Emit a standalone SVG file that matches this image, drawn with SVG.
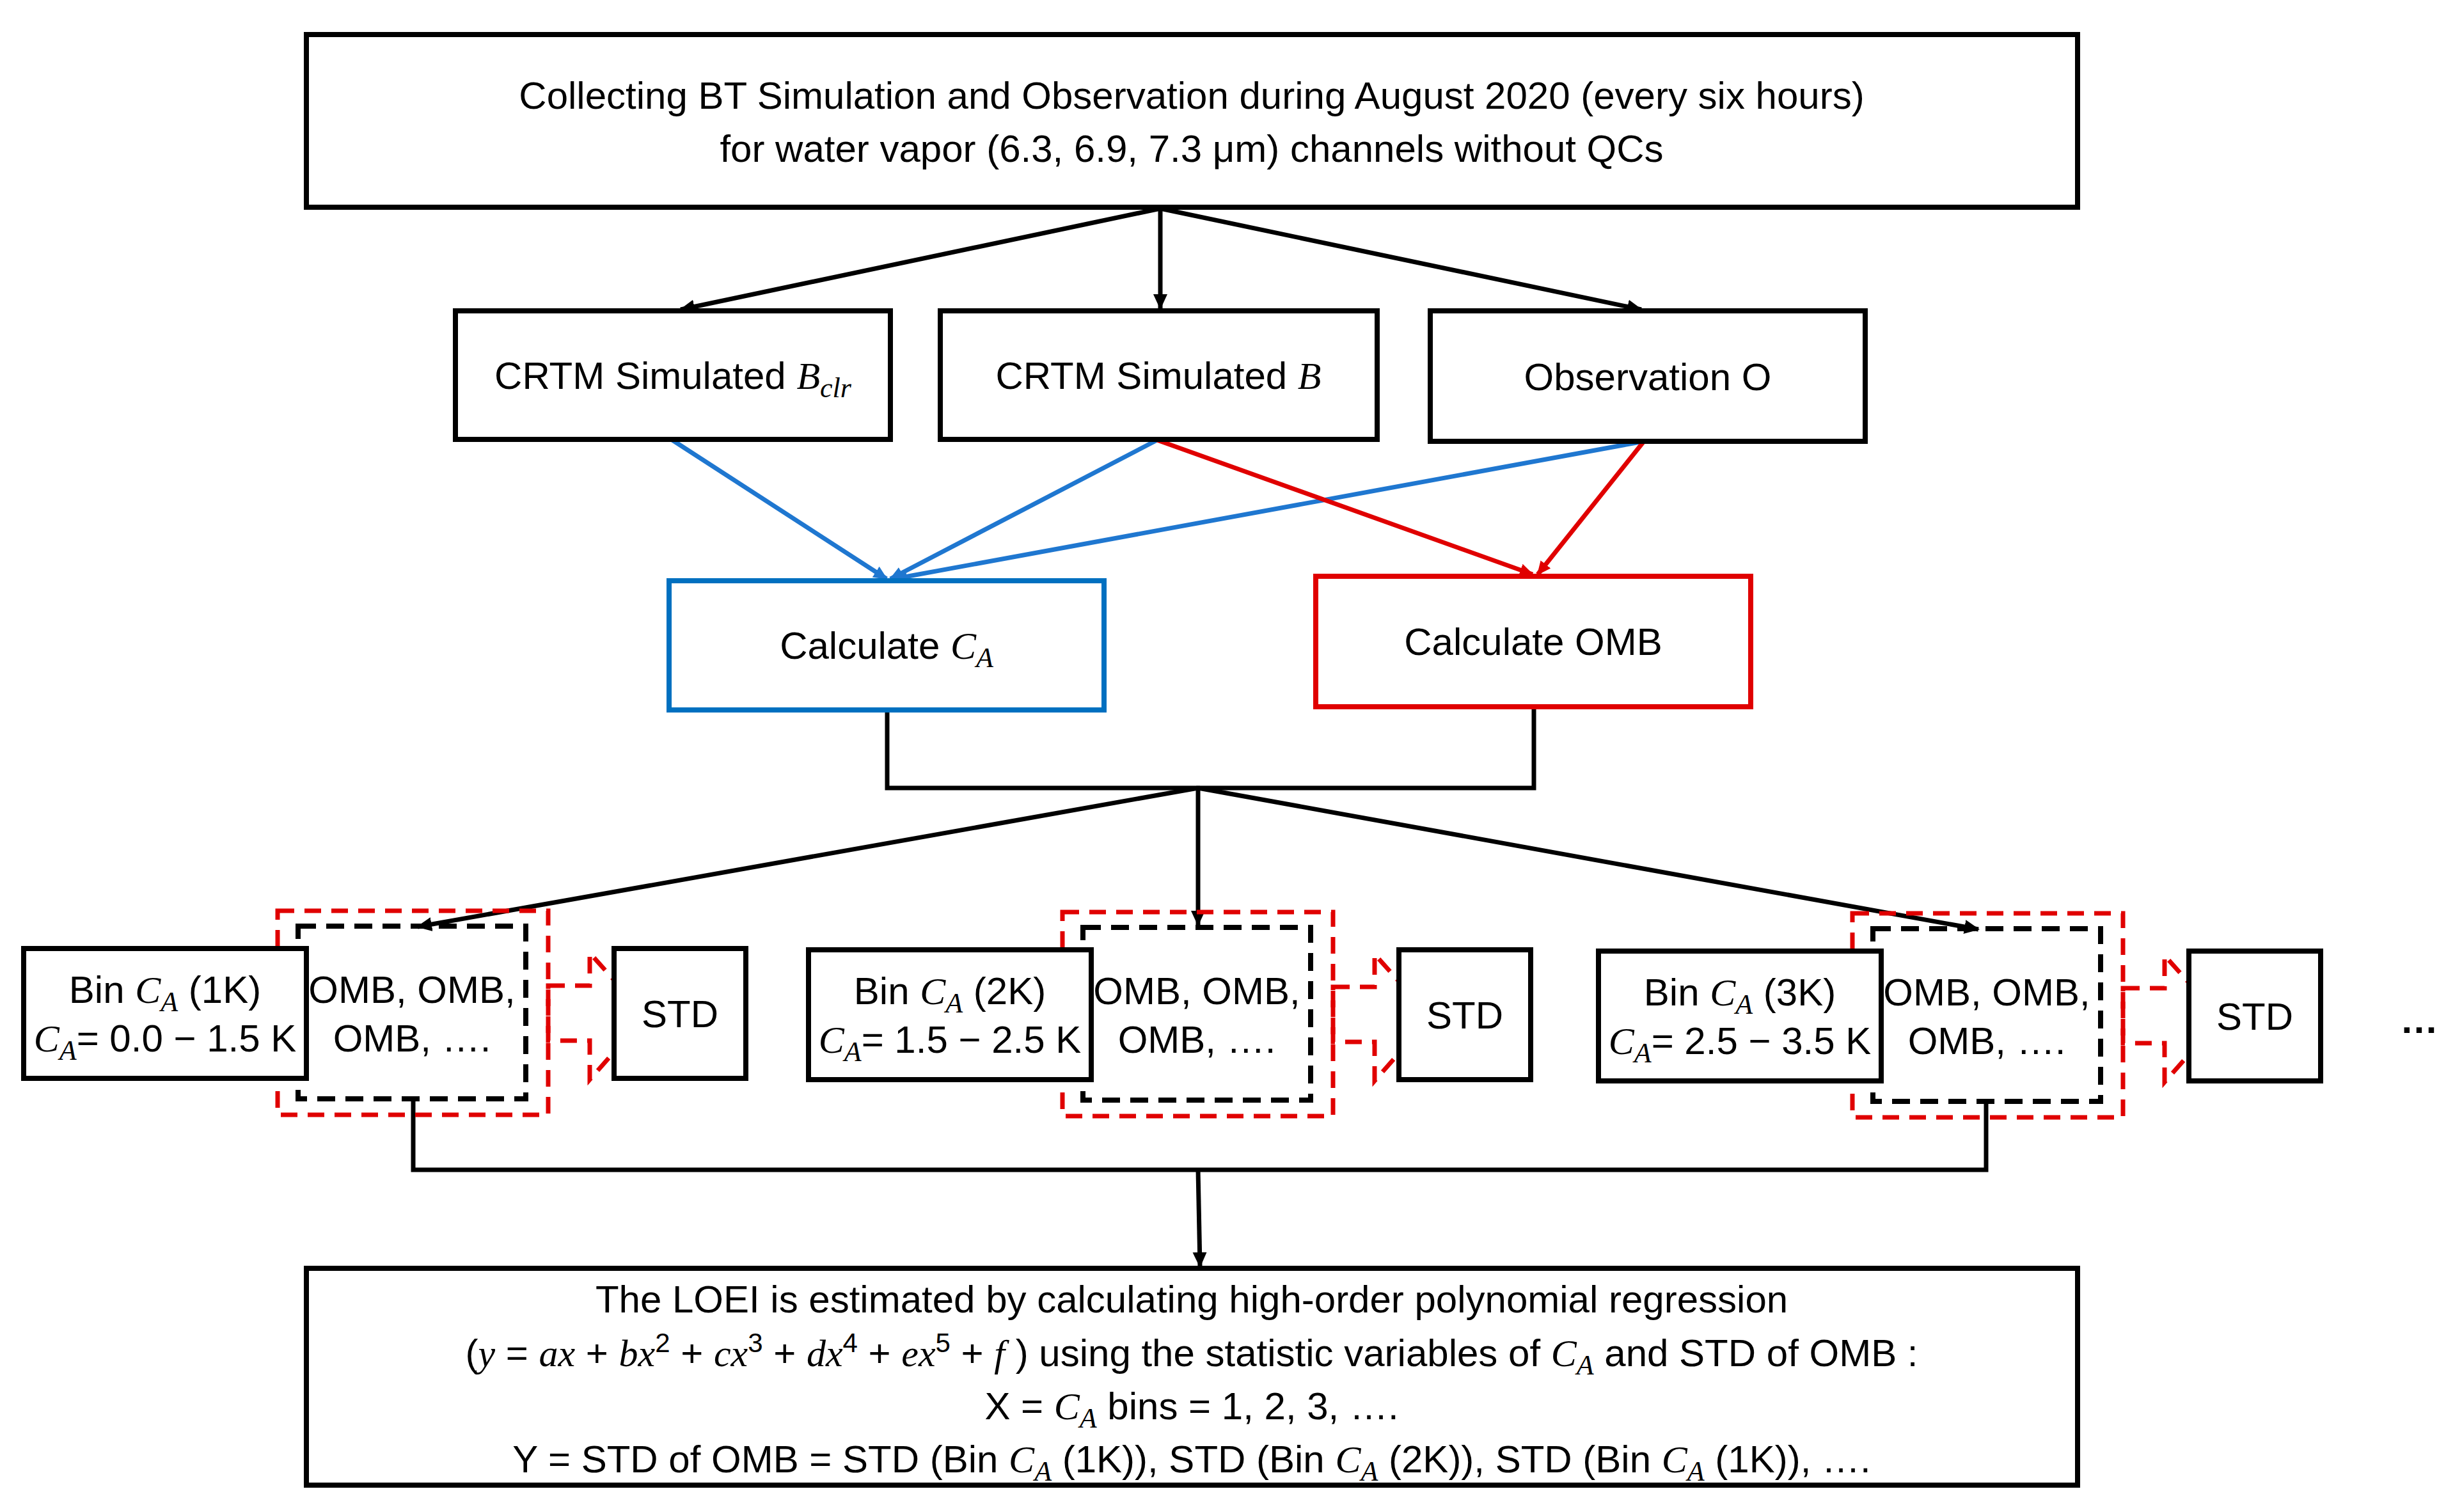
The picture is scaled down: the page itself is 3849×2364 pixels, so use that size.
<svg xmlns="http://www.w3.org/2000/svg" width="3849" height="2364" viewBox="0 0 3849 2364">
<style>
.t{font-family:"Liberation Sans",Arial,sans-serif;font-size:60px;fill:#000;text-anchor:middle}
.m{font-family:"Liberation Serif",serif;font-style:italic}
.box{fill:#fff;stroke:#000;stroke-width:8}
.ln{fill:none;stroke:#000;stroke-width:7}
.bl{fill:none;stroke:#1f77d0;stroke-width:7}
.rd{fill:none;stroke:#e00000;stroke-width:7}
.bd{fill:none;stroke:#000;stroke-width:8;stroke-dasharray:28 16}
.rdd{fill:none;stroke:#e00000;stroke-width:7;stroke-dasharray:26 16}
</style>
<defs>
<marker id="ab" markerWidth="24" markerHeight="24" refX="20" refY="12" orient="auto" markerUnits="userSpaceOnUse"><path d="M0,2 L22,12 L0,22 Z" fill="#1f77d0"/></marker>
<marker id="ar" markerWidth="24" markerHeight="24" refX="20" refY="12" orient="auto" markerUnits="userSpaceOnUse"><path d="M0,2 L22,12 L0,22 Z" fill="#e00000"/></marker>
<marker id="a" markerWidth="26" markerHeight="26" refX="22" refY="13" orient="auto" markerUnits="userSpaceOnUse"><path d="M0,2 L24,13 L0,24 Z" fill="#000"/></marker>
</defs>
<rect width="3849" height="2364" fill="#fff"/>
<g id="connectors">
<line class="ln" x1="1814" y1="326" x2="1064" y2="484" marker-end="url(#a)"/>
<line class="ln" x1="1814" y1="326" x2="1814" y2="482" marker-end="url(#a)"/>
<line class="ln" x1="1814" y1="326" x2="2566" y2="484" marker-end="url(#a)"/>
<line class="bl" x1="1051" y1="688" x2="1386" y2="905" marker-end="url(#ab)"/>
<line class="bl" x1="1809" y1="688" x2="1392" y2="905" marker-end="url(#ab)"/>
<line class="bl" x1="2570" y1="690" x2="1398" y2="905" marker-end="url(#ab)"/>
<line class="rd" x1="1809" y1="688" x2="2396" y2="898" marker-end="url(#ar)"/>
<line class="rd" x1="2570" y1="690" x2="2404" y2="898" marker-end="url(#ar)"/>
<polyline class="ln" points="1387,1110 1387,1232 2398,1232 2398,1105"/>
<line class="ln" x1="1873" y1="1232" x2="653" y2="1449" marker-end="url(#a)"/>
<line class="ln" x1="1873" y1="1232" x2="1873" y2="1446" marker-end="url(#a)"/>
<line class="ln" x1="1873" y1="1232" x2="3093" y2="1453" marker-end="url(#a)"/>
<polyline class="ln" points="646,1718 646,1829 3105,1829 3105,1722"/>
<line class="ln" x1="1873" y1="1829" x2="1876" y2="1980" marker-end="url(#a)"/>
</g>
<g id="top">
<rect class="box" x="479" y="54" width="2769" height="270"/>
<text class="t" x="1863" y="170">Collecting BT Simulation and Observation during August 2020 (every six hours)</text>
<text class="t" x="1863" y="253">for water vapor (6.3, 6.9, 7.3 μm) channels without QCs</text>
</g>
<g id="bclr"><rect class="box" x="712" y="486" width="680" height="201"/>
<text class="t" x="1052" y="608">CRTM Simulated <tspan class="m">B<tspan font-size="44" dy="13">clr</tspan></tspan></text></g>
<g id="bsim"><rect class="box" x="1470" y="486" width="683" height="201"/>
<text class="t" x="1811" y="608">CRTM Simulated <tspan class="m">B</tspan></text></g>
<g id="obs"><rect class="box" x="2236" y="486" width="680" height="204"/>
<text class="t" x="2576" y="610">Observation O</text></g>
<g id="calcA"><rect x="1046" y="908" width="680" height="202" fill="#fff" stroke="#0070c0" stroke-width="8"/>
<text class="t" x="1386" y="1030">Calculate <tspan class="m">C<tspan font-size="44" dy="13">A</tspan></tspan></text></g>
<g id="calcOMB"><rect x="2057" y="901" width="680" height="204" fill="#fff" stroke="#e00000" stroke-width="8"/>
<text class="t" x="2397" y="1024">Calculate OMB</text></g>
<g id="grp1">
<rect class="rdd" x="434" y="1424" width="423" height="319"/>
<rect class="bd" x="466" y="1448" width="356" height="270" fill="#fff"/>
<text class="t" x="644" y="1568">OMB, OMB,</text><text class="t" x="644" y="1644">OMB, ….</text>
<polygon class="rdd" points="857,1541 922,1541 922,1490 1010,1588 922,1688 922,1627 857,1627"/>
<rect class="box" x="37" y="1483" width="442" height="203"/>
<text class="t" x="258" y="1568">Bin <tspan class="m">C<tspan font-size="44" dy="13">A</tspan></tspan><tspan dy="-13"> (1K)</tspan></text>
<text class="t" x="258" y="1644"><tspan class="m">C<tspan font-size="44" dy="13">A</tspan></tspan><tspan dy="-13">= 0.0 − 1.5 K</tspan></text>
<rect class="box" x="960" y="1483" width="206" height="203"/>
<text class="t" x="1063" y="1606">STD</text>
</g>
<g id="grp2" transform="translate(1227,2)">
<rect class="rdd" x="434" y="1424" width="423" height="319"/>
<rect class="bd" x="466" y="1448" width="356" height="270" fill="#fff"/>
<text class="t" x="644" y="1568">OMB, OMB,</text><text class="t" x="644" y="1644">OMB, ….</text>
<polygon class="rdd" points="857,1541 922,1541 922,1490 1010,1588 922,1688 922,1627 857,1627"/>
<rect class="box" x="37" y="1483" width="442" height="203"/>
<text class="t" x="258" y="1568">Bin <tspan class="m">C<tspan font-size="44" dy="13">A</tspan></tspan><tspan dy="-13"> (2K)</tspan></text>
<text class="t" x="258" y="1644"><tspan class="m">C<tspan font-size="44" dy="13">A</tspan></tspan><tspan dy="-13">= 1.5 − 2.5 K</tspan></text>
<rect class="box" x="960" y="1483" width="206" height="203"/>
<text class="t" x="1063" y="1606">STD</text>
</g>
<g id="grp3" transform="translate(2462,4)">
<rect class="rdd" x="434" y="1424" width="423" height="319"/>
<rect class="bd" x="466" y="1448" width="356" height="270" fill="#fff"/>
<text class="t" x="644" y="1568">OMB, OMB,</text><text class="t" x="644" y="1644">OMB, ….</text>
<polygon class="rdd" points="857,1541 922,1541 922,1490 1010,1588 922,1688 922,1627 857,1627"/>
<rect class="box" x="37" y="1483" width="442" height="203"/>
<text class="t" x="258" y="1568">Bin <tspan class="m">C<tspan font-size="44" dy="13">A</tspan></tspan><tspan dy="-13"> (3K)</tspan></text>
<text class="t" x="258" y="1644"><tspan class="m">C<tspan font-size="44" dy="13">A</tspan></tspan><tspan dy="-13">= 2.5 − 3.5 K</tspan></text>
<rect class="box" x="960" y="1483" width="206" height="203"/>
<text class="t" x="1063" y="1606">STD</text>
</g>
<g id="dots"><text class="t" x="3782" y="1615" font-weight="bold" font-size="100">…</text></g>
<g id="bottom">
<rect class="box" x="479" y="1983" width="2769" height="339"/>
<text class="t" x="1863" y="2052">The LOEI is estimated by calculating high-order polynomial regression</text>
<text class="t" x="1863" y="2136">(<tspan class="m">y</tspan> = <tspan class="m">ax</tspan> + <tspan class="m">bx</tspan><tspan font-size="42" dy="-22">2</tspan><tspan dy="22"> + </tspan><tspan class="m">cx</tspan><tspan font-size="42" dy="-22">3</tspan><tspan dy="22"> + </tspan><tspan class="m">dx</tspan><tspan font-size="42" dy="-22">4</tspan><tspan dy="22"> + </tspan><tspan class="m">ex</tspan><tspan font-size="42" dy="-22">5</tspan><tspan dy="22"> + </tspan><tspan class="m">f</tspan> ) using the statistic variables  of <tspan class="m">C<tspan font-size="44" dy="13">A</tspan></tspan><tspan dy="-13"> and STD of OMB :</tspan></text>
<text class="t" x="1863" y="2219">X = <tspan class="m">C<tspan font-size="44" dy="13">A</tspan></tspan><tspan dy="-13"> bins = 1, 2, 3, ….</tspan></text>
<text class="t" x="1863" y="2302">Y = STD of OMB = STD (Bin <tspan class="m">C<tspan font-size="44" dy="13">A</tspan></tspan><tspan dy="-13"> (1K)),  STD (Bin </tspan><tspan class="m">C<tspan font-size="44" dy="13">A</tspan></tspan><tspan dy="-13"> (2K)), STD (Bin </tspan><tspan class="m">C<tspan font-size="44" dy="13">A</tspan></tspan><tspan dy="-13"> (1K)), ….</tspan></text>
</g>
</svg>
